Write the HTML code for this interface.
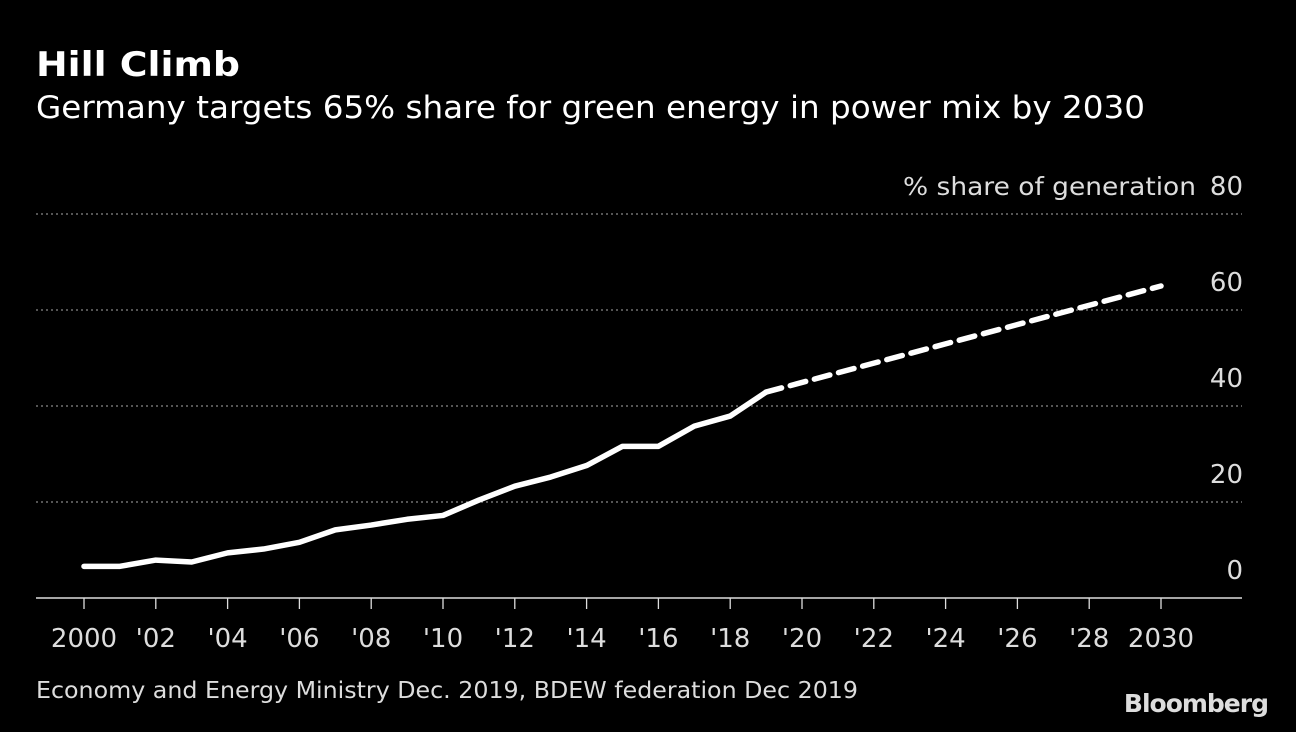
<!DOCTYPE html>
<html><head><meta charset="utf-8"><style>
body{margin:0;background:#000;width:1296px;height:728px;overflow:hidden;font-family:"DejaVu Sans","Liberation Sans",sans-serif;}
svg text{font-family:"DejaVu Sans","Liberation Sans",sans-serif;}
</style></head><body>
<svg id="chart" width="1296" height="728" xmlns="http://www.w3.org/2000/svg">
<text x="36" y="76" fill="#fff" font-size="34" font-weight="bold" textLength="204" lengthAdjust="spacingAndGlyphs">Hill Climb</text>
<text x="36" y="118" fill="#fff" font-size="31" textLength="1109" lengthAdjust="spacingAndGlyphs">Germany targets 65% share for green energy in power mix by 2030</text>
<text x="1196" y="195" fill="#ddd" font-size="25" text-anchor="end" textLength="293" lengthAdjust="spacingAndGlyphs">% share of generation</text>
<g id="grid"></g><g id="xaxis"></g><g id="series"></g>
<text x="36" y="698" fill="#ddd" font-size="23" textLength="822" lengthAdjust="spacingAndGlyphs">Economy and Energy Ministry Dec. 2019, BDEW federation Dec 2019</text>
<text x="1268" y="712" fill="#ddd" font-size="25" font-weight="bold" text-anchor="end" letter-spacing="-1">Bloomberg</text>
</svg>
<script>
const yTicks=[0,20,40,60,80];
const yTickLabels=["0","20","40","60","80"];
const xTicks=[2000,2002,2004,2006,2008,2010,2012,2014,2016,2018,2020,2022,2024,2026,2028,2030];
const xTickLabels=["2000","'02","'04","'06","'08","'10","'12","'14","'16","'18","'20","'22","'24","'26","'28","2030"];
const actualYears=[2000,2001,2002,2003,2004,2005,2006,2007,2008,2009,2010,2011,2012,2013,2014,2015,2016,2017,2018,2019];
const actualValues=[6.6,6.6,7.9,7.5,9.4,10.2,11.6,14.2,15.2,16.4,17.2,20.4,23.3,25.2,27.6,31.6,31.6,35.8,37.9,42.9];
const targetYears=[2019,2030];
const targetValues=[42.9,65];
const NS="http://www.w3.org/2000/svg";
const xs=y=>84+(y-2000)*(1161-84)/30;
const ys=v=>598-v*4.8;
function mk(tag,attrs,parent){const e=document.createElementNS(NS,tag);for(const k in attrs)e.setAttribute(k,attrs[k]);parent.appendChild(e);return e;}
const grid=document.getElementById('grid');
yTicks.forEach((t,i)=>{
  if(t>0){const l=mk('line',{x1:36,x2:1242,y1:ys(t),y2:ys(t),stroke:'#888','stroke-width':1.3,'stroke-dasharray':'2,3'},grid);
  
  }
  const tx=mk('text',{x:1243,y:ys(t)-19,fill:'#ddd','font-size':26,'text-anchor':'end'},grid);
  tx.textContent=yTickLabels[i];
  
  
});
const xa=document.getElementById('xaxis');
const base=mk('line',{x1:36,x2:1242,y1:598,y2:598,stroke:'#ddd','stroke-width':1.5},xa);


xTicks.forEach((t,i)=>{
  const tk=mk('line',{x1:xs(t),x2:xs(t),y1:598,y2:609,stroke:'#ddd','stroke-width':1.3},xa);
  
  
  const tx=mk('text',{x:xs(t),y:647,fill:'#ddd','font-size':26,'text-anchor':'middle'},xa);
  tx.textContent=xTickLabels[i];
  
  
});
const s=document.getElementById('series');
const p1=mk('polyline',{points:actualYears.map((y,i)=>xs(y)+','+ys(actualValues[i])).join(' '),fill:'none',stroke:'#fff','stroke-width':5.5,'stroke-linejoin':'round','stroke-linecap':'round'},s);


const p2=mk('polyline',{points:targetYears.map((y,i)=>xs(y)+','+ys(targetValues[i])).join(' '),fill:'none',stroke:'#fff','stroke-width':5.5,'stroke-dasharray':'16,9','stroke-linecap':'round'},s);


</script>
</body></html>
